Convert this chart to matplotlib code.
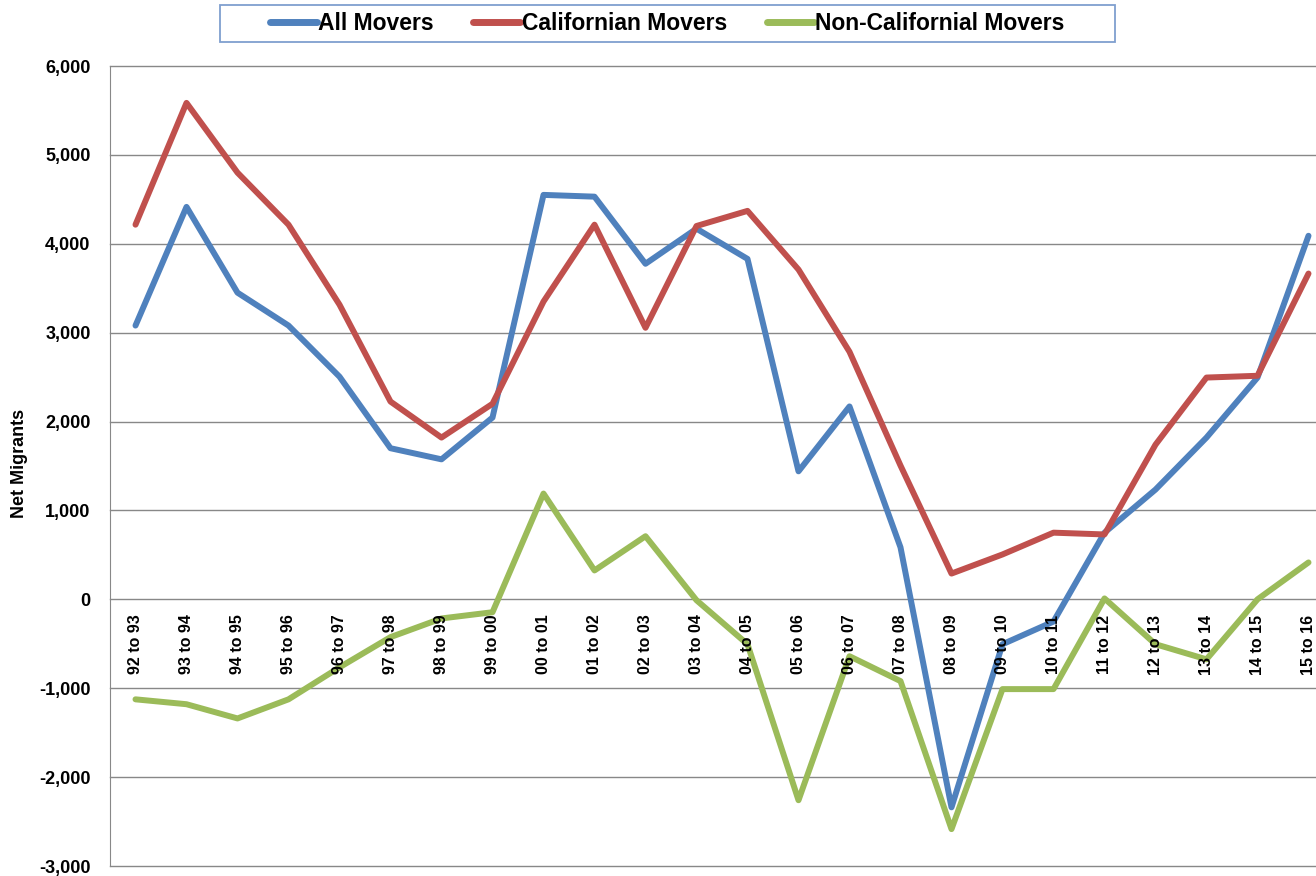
import matplotlib.pyplot as plt
from matplotlib.patches import Rectangle
from matplotlib.ticker import FuncFormatter

plt.rcParams['font.family'] = ['Liberation Sans', 'DejaVu Sans']

periods = ["92 to 93", "93 to 94", "94 to 95", "95 to 96", "96 to 97", "97 to 98",
           "98 to 99", "99 to 00", "00 to 01", "01 to 02", "02 to 03", "03 to 04",
           "04 to 05", "05 to 06", "06 to 07", "07 to 08", "08 to 09", "09 to 10",
           "10 to 11", "11 to 12", "12 to 13", "13 to 14", "14 to 15", "15 to 16"]

all_movers = [3080, 4415, 3450, 3080, 2505, 1700, 1575, 2045, 4550, 4530, 3775, 4170,
              3830, 1440, 2170, 585, -2340, -505, -250, 750, 1235, 1820, 2495, 4090]
californian = [4215, 5585, 4800, 4215, 3315, 2225, 1820, 2200, 3350, 4215, 3055, 4200,
               4370, 3710, 2785, 1505, 290, 505, 750, 730, 1740, 2495, 2515, 3665]
non_californian = [-1125, -1180, -1340, -1125, -765, -425, -215, -145, 1190, 325, 710, -10,
                   -505, -2260, -640, -920, -2585, -1010, -1010, 10, -505, -675, 0, 415]

fig = plt.figure(figsize=(13.16, 8.76), dpi=100)
ax = fig.add_axes([110 / 1316, 1 - 866 / 876, 1224 / 1316, 800 / 876])

x = list(range(len(periods)))
style = dict(lw=4.3, solid_capstyle="round", solid_joinstyle="round")
ax.plot(x, all_movers, color="#4F81BD", label="All Movers", **style)
ax.plot(x, californian, color="#C0504D", label="Californian Movers", **style)
ax.plot(x, non_californian, color="#9BBB59", label="Non-Californial Movers", **style)

ax.set_xlim(-0.5, len(periods) - 0.5)
ax.set_ylim(-3000, 6000)
ax.set_yticks(range(-3000, 6001, 1000))
ax.yaxis.set_major_formatter(FuncFormatter(lambda v, p: f"{v:,.0f}"))
ax.grid(axis="y", color="#888888", lw=1)
for gl in ax.get_ygridlines():
    gl.set_clip_on(False)
ax.set_axisbelow(True)
# category labels sit on top of the lines, grid stays beneath
ax.xaxis.set_zorder(3)

# category labels hang just below the zero line
ax.spines["bottom"].set_position(("data", 0))
ax.spines["bottom"].set_visible(False)
ax.spines["top"].set_visible(False)
ax.spines["right"].set_visible(False)
ax.spines["left"].set_color("#888888")
ax.set_xticks(x)
ax.set_xticklabels(periods, rotation=90, fontsize=11.5, fontweight="bold")
ax.tick_params(axis="x", length=0, pad=11)
ax.tick_params(axis="y", length=0, pad=14, labelsize=13)
for t in ax.get_yticklabels():
    t.set_fontweight("bold")

ax.set_ylabel("Net Migrants", fontsize=13, fontweight="bold")
ax.yaxis.set_label_coords((20 - 110) / 1224, (866 - 463) / 800)
ax.yaxis.label.set_verticalalignment("center")

leg = fig.legend(loc="center", bbox_to_anchor=(667 / 1316, 1 - 23.5 / 876), ncol=3,
                 frameon=False, handlelength=2.05, handletextpad=0.05,
                 columnspacing=1.75, prop={"weight": "bold", "size": 16.5})
for h in leg.get_lines():
    h.set_linewidth(5)
    h.set_solid_capstyle("round")
fig.patches.append(Rectangle((220 / 1316, 1 - 42 / 876), 895 / 1316, 37 / 876,
                             transform=fig.transFigure, fill=False,
                             edgecolor="#7F9FCF", lw=1.3))

fig.savefig("out.png", dpi=100)
